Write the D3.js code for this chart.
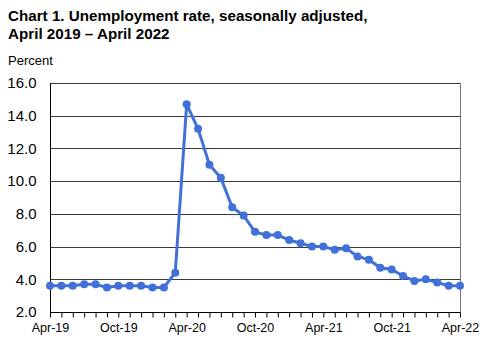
<!DOCTYPE html>
<html>
<head>
<meta charset="utf-8">
<script src="https://cdn.jsdelivr.net/npm/d3@7"></script>
<style>
  body { margin: 0; background: #fff; }
  svg text { font-family: Arial, "Liberation Sans", sans-serif; fill: #000; }
</style>
</head>
<body>
<div id="chart"></div>
<script>
// Monthly unemployment rate, Apr 2019 - Apr 2022
const months = ["2019-04","2019-05","2019-06","2019-07","2019-08","2019-09","2019-10","2019-11","2019-12",
  "2020-01","2020-02","2020-03","2020-04","2020-05","2020-06","2020-07","2020-08","2020-09","2020-10","2020-11","2020-12",
  "2021-01","2021-02","2021-03","2021-04","2021-05","2021-06","2021-07","2021-08","2021-09","2021-10","2021-11","2021-12",
  "2022-01","2022-02","2022-03","2022-04"]
const rates = [3.6,3.6,3.6,3.7,3.7,3.5,3.6,3.6,3.6,
  3.5,3.5,4.4,14.7,13.2,11.0,10.2,8.4,7.9,6.9,6.7,6.7,
  6.4,6.2,6.0,6.0,5.8,5.9,5.4,5.2,4.7,4.6,4.2,3.9,
  4.0,3.8,3.6,3.6]
const yTicks = [2,4,6,8,10,12,14,16]
const xLabels = ["Apr-19","Oct-19","Apr-20","Oct-20","Apr-21","Oct-21","Apr-22"]

const w = 482, h = 344
const plotL = 50, plotR = 460, plotT = 83, plotB = 312

const data = months.map((m, i) => [m, rates[i]])

// Evenly spaced monthly categories
const xScale = d3.scalePoint()
                 .domain(months)
                 .range([plotL, plotR])
const yScale = d3.scaleLinear()
                 .domain([2, 16])
                 .range([plotB, plotT])

const svg = d3.select("#chart").append("svg")
              .attr("width", w)
              .attr("height", h)

// Title and unit label
svg.append("text").attr("x", 8).attr("y", 21)
   .style("font-size", "15.2px").style("font-weight", "bold")
   .text("Chart 1. Unemployment rate, seasonally adjusted,")
svg.append("text").attr("x", 8).attr("y", 39)
   .style("font-size", "15.2px").style("font-weight", "bold")
   .text("April 2019 \u2013 April 2022")
svg.append("text").attr("x", 8).attr("y", 65)
   .style("font-size", "13px")
   .text("Percent")

// Horizontal gridlines
svg.selectAll("line.grid")
   .data(yTicks.filter(d => d > 2))
   .enter()
   .append("line")
   .attr("class", "grid")
   .attr("x1", plotL).attr("x2", plotR)
   .attr("y1", d => Math.round(yScale(d)) + 0.5)
   .attr("y2", d => Math.round(yScale(d)) + 0.5)
   .style("stroke", "#3a3a3a")

// Right border
svg.append("line")
   .attr("x1", plotR + 0.5).attr("x2", plotR + 0.5)
   .attr("y1", plotT).attr("y2", plotB)
   .style("stroke", "#777")

// Y axis
const yAxis = d3.axisLeft(yScale)
                .tickValues(yTicks)
                .tickSize(0)
                .tickPadding(14)
                .tickFormat(d3.format(".1f"))
const gy = svg.append("g")
   .attr("transform", "translate(" + (plotL + 0.5) + ",0)")
   .call(yAxis)
gy.select(".domain").style("stroke", "#000").attr("d", "M0," + plotT + "V" + (plotB + 0.5))
gy.selectAll("text").style("font-size", "15px").style("font-family", "Arial, 'Liberation Sans', sans-serif")

// X axis: monthly ticks, labels every six months
const xAxis = d3.axisBottom(xScale)
                .tickSize(5)
                .tickPadding(6)
                .tickFormat((d, i) => i % 6 == 0 ? xLabels[i / 6] : "")
const gx = svg.append("g")
   .attr("transform", "translate(0," + (plotB + 0.5) + ")")
   .call(xAxis)
gx.select(".domain").style("stroke", "#000").attr("d", "M" + plotL + ",0H" + (plotR + 0.5))
gx.selectAll("line").style("stroke", "#000")
gx.selectAll("text").style("font-size", "12.5px").style("font-family", "Arial, 'Liberation Sans', sans-serif")

// Series line and markers
const line = d3.line()
               .x(d => xScale(d[0]))
               .y(d => yScale(d[1]))
svg.append("path")
   .datum(data)
   .attr("d", line)
   .style("fill", "none")
   .style("stroke", "#4170d8")
   .style("stroke-width", 3)

svg.selectAll("circle")
   .data(data)
   .enter()
   .append("circle")
   .attr("cx", d => xScale(d[0]))
   .attr("cy", d => yScale(d[1]))
   .attr("r", 4)
   .style("fill", "#4170d8")
</script>
</body>
</html>
